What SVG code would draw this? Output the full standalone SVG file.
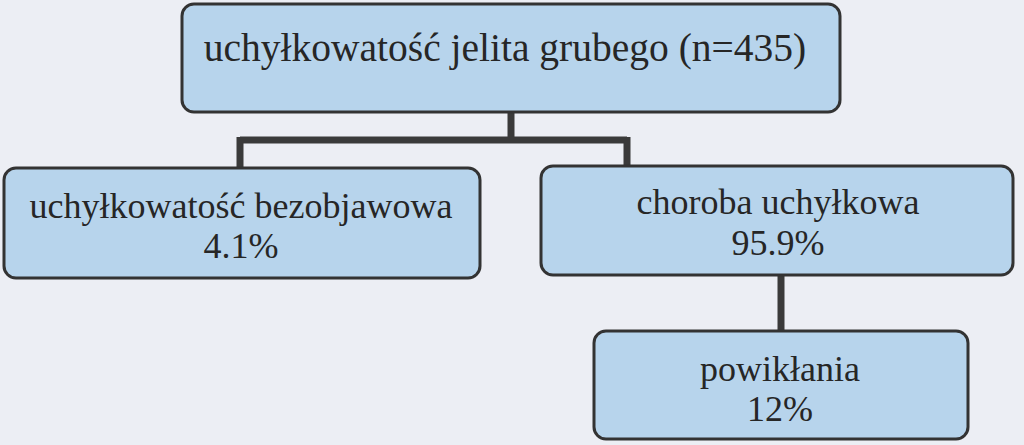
<svg xmlns="http://www.w3.org/2000/svg" width="1024" height="445" viewBox="0 0 1024 445">
<style>
.box{fill:#b7d4ec;stroke:#333;stroke-width:3}
.t{font-family:'Liberation Serif','Times New Roman',serif;fill:#262626;text-anchor:middle;font-size:36px}
.c{fill:none;stroke:#3a3a3a;stroke-width:7;stroke-linecap:butt}
</style>
<rect width="1024" height="445" fill="#eceef4"/>
<g id="connectors">
<path class="c" d="M511 112 V140 M240 140 H627 M240 137 V168 M627 137 V166"/>
<path class="c" d="M781 275 V331"/>
</g>
<g id="root">
<rect class="box" x="182" y="4" width="658" height="108" rx="12"/>
<text class="t" x="505" y="61" style="font-size:39.5px">uchyłkowatość jelita grubego (n=435)</text>
</g>
<g id="bezobjawowa">
<rect class="box" x="4" y="168" width="476" height="110" rx="12"/>
<text class="t" x="241" y="218">uchyłkowatość bezobjawowa</text>
<text class="t" x="241" y="258">4.1%</text>
</g>
<g id="choroba">
<rect class="box" x="541" y="166" width="472" height="109" rx="12"/>
<text class="t" x="778" y="214">choroba uchyłkowa</text>
<text class="t" x="778" y="255">95.9%</text>
</g>
<g id="powiklania">
<rect class="box" x="594" y="331" width="374" height="108" rx="12"/>
<text class="t" x="780" y="381">powikłania</text>
<text class="t" x="780" y="421">12%</text>
</g>
</svg>
